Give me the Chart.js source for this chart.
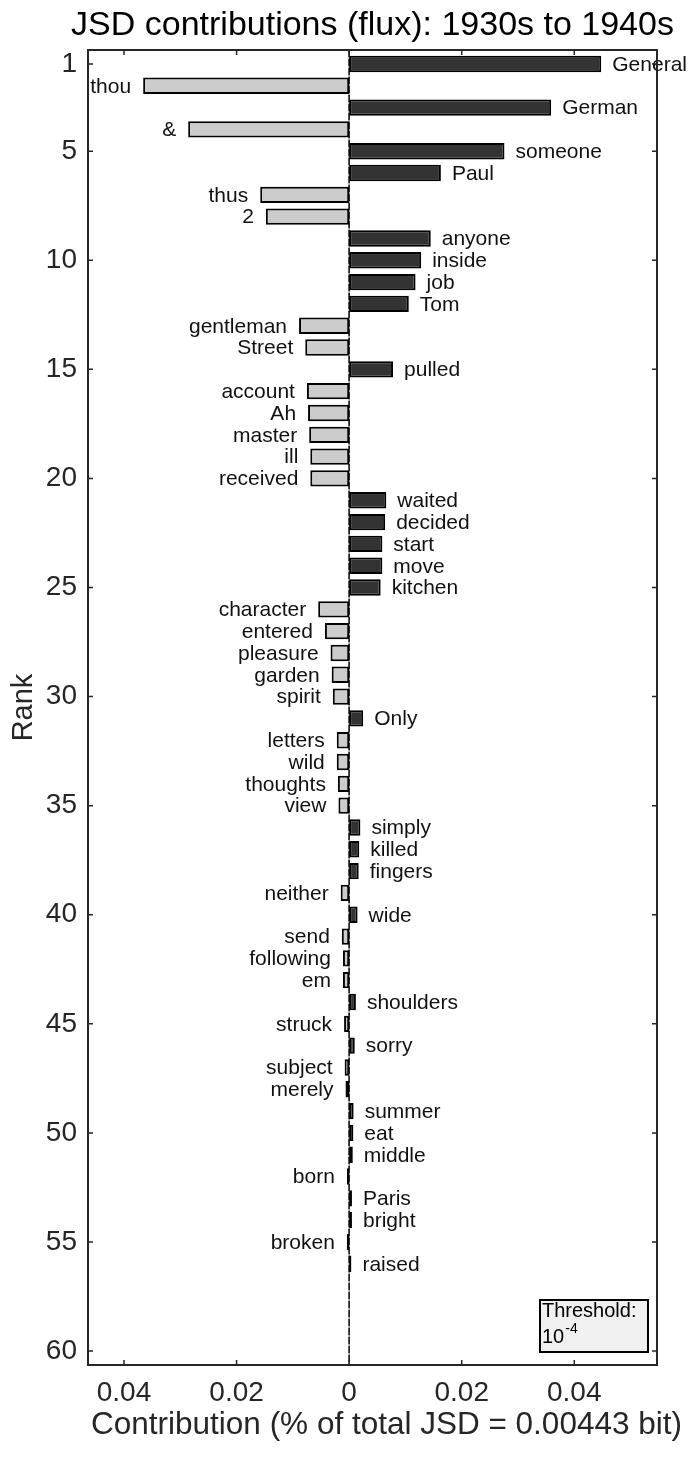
<!DOCTYPE html>
<html>
<head>
<meta charset="utf-8">
<title>JSD contributions (flux): 1930s to 1940s</title>
<script src="https://cdn.jsdelivr.net/npm/chart.js@4.4.1/dist/chart.umd.min.js"></script>
<style>
	html, body { margin: 0; padding: 0; background: #fff; }
	#wrap { width: 690px; height: 1457px; }
</style>
</head>
<body>
<div id="wrap"><canvas id="jsd-chart" width="690" height="1457"></canvas></div>
<script>
var chartTitle = 'JSD contributions (flux): 1930s to 1940s';
var xAxisTitle = 'Contribution (% of total JSD = 0.00443 bit)';
var yAxisTitle = 'Rank';

// rank of each word, top to bottom
var ranks = [1, 2, 3, 4, 5, 6, 7, 8, 9, 10,
	11, 12, 13, 14, 15, 16, 17, 18, 19, 20,
	21, 22, 23, 24, 25, 26, 27, 28, 29, 30,
	31, 32, 33, 34, 35, 36, 37, 38, 39, 40,
	41, 42, 43, 44, 45, 46, 47, 48, 49, 50,
	51, 52, 53, 54, 55, 56];

var words = ['General', 'thou', 'German', '&', 'someone', 'Paul', 'thus', '2', 'anyone', 'inside',
	'job', 'Tom', 'gentleman', 'Street', 'pulled', 'account', 'Ah', 'master', 'ill', 'received',
	'waited', 'decided', 'start', 'move', 'kitchen', 'character', 'entered', 'pleasure', 'garden', 'spirit',
	'Only', 'letters', 'wild', 'thoughts', 'view', 'simply', 'killed', 'fingers', 'neither', 'wide',
	'send', 'following', 'em', 'shoulders', 'struck', 'sorry', 'subject', 'merely', 'summer', 'eat',
	'middle', 'born', 'Paris', 'bright', 'broken', 'raised'];

// contribution in % of total JSD (negative = 1930s side)
var contributions = [0.0448, -0.0366, 0.0359, -0.0286, 0.0276, 0.0163, -0.0158, -0.0148, 0.0145, 0.0128,
	0.0118, 0.0106, -0.0089, -0.0078, 0.0078, -0.0075, -0.0073, -0.0071, -0.0069, -0.0069,
	0.0066, 0.0064, 0.0059, 0.0059, 0.0056, -0.0055, -0.0043, -0.0033, -0.0031, -0.0029,
	0.0025, -0.0022, -0.0022, -0.0020, -0.0019, 0.0020, 0.0018, 0.0017, -0.0015, 0.0015,
	-0.0013, -0.0011, -0.0011, 0.0012, -0.0009, 0.0010, -0.0008, -0.00065, 0.0008, 0.00075,
	0.00065, -0.0004, 0.0005, 0.0005, -0.0004, 0.0004];

var yTicks = [1, 5, 10, 15, 20, 25, 30, 35, 40, 45, 50, 55, 60];
var xTicks = [-0.04, -0.02, 0, 0.02, 0.04];
var xTickLabels = ['0.04', '0.02', '0', '0.02', '0.04'];

var thresholdLabel = 'Threshold:';
var thresholdBase = '10';
var thresholdExp = '-4';

var FONT = "'Liberation Sans', Arial, Helvetica, sans-serif";
var INK = '#262626';

Chart.defaults.font.family = FONT;
Chart.defaults.color = INK;

var decorPlugin = {
	id: 'decor',
	beforeDatasetsDraw: function(chart) {
		var ctx = chart.ctx;
		var area = chart.chartArea;
		var x0 = chart.scales.x.getPixelForValue(0);
		ctx.save();
		ctx.lineWidth = 1.5;
		ctx.strokeStyle = '#8a8a8a';
		ctx.beginPath();
		ctx.moveTo(x0, area.top);
		ctx.lineTo(x0, area.bottom);
		ctx.stroke();
		ctx.strokeStyle = '#1a1a1a';
		ctx.setLineDash([7, 2]);
		ctx.beginPath();
		ctx.moveTo(x0, area.top);
		ctx.lineTo(x0, area.bottom);
		ctx.stroke();
		ctx.restore();
	},
	afterDatasetsDraw: function(chart) {
		var ctx = chart.ctx;
		var meta = chart.getDatasetMeta(0);
		ctx.save();
		ctx.font = '21px ' + FONT;
		ctx.fillStyle = '#111';
		ctx.textBaseline = 'middle';
		meta.data.forEach(function(bar, i) {
			var p = bar.getProps(['x', 'y'], true);
			if (contributions[i] >= 0) {
				ctx.textAlign = 'left';
				ctx.fillText(words[i], p.x + 11, p.y + 1);
			} else {
				ctx.textAlign = 'right';
				ctx.fillText(words[i], p.x - 12, p.y + 1);
			}
		});
		ctx.restore();
	},
	afterDraw: function(chart) {
		var ctx = chart.ctx;
		var area = chart.chartArea;
		var xs = chart.scales.x;
		var ys = chart.scales.y;
		var tick = 5;

		ctx.save();
		// titles (drawn here so they are not squeezed to the plot width)
		ctx.fillStyle = '#000';
		ctx.textAlign = 'center';
		ctx.textBaseline = 'middle';
		ctx.font = '34px ' + FONT;
		ctx.fillText(chartTitle, (area.left + area.right) / 2, 26);
		ctx.fillStyle = INK;
		ctx.font = '31.5px ' + FONT;
		ctx.fillText(xAxisTitle, (area.left + area.right) / 2 + 14, 1425);

		// box and inward ticks
		ctx.strokeStyle = INK;
		ctx.lineWidth = 1.5;
		ctx.beginPath();
		yTicks.forEach(function(v) {
			var y = ys.getPixelForValue(v);
			ctx.moveTo(area.left, y);
			ctx.lineTo(area.left + tick, y);
			ctx.moveTo(area.right, y);
			ctx.lineTo(area.right - tick, y);
		});
		xTicks.forEach(function(v) {
			var x = xs.getPixelForValue(v);
			ctx.moveTo(x, area.bottom);
			ctx.lineTo(x, area.bottom - tick);
			ctx.moveTo(x, area.top);
			ctx.lineTo(x, area.top + tick);
		});
		ctx.stroke();
		ctx.lineWidth = 2;
		ctx.strokeRect(area.left, area.top, area.right - area.left, area.bottom - area.top);

		// threshold note
		var bw = 108, bh = 52;
		var bx = area.right - 9 - bw;
		var by = area.bottom - 13 - bh;
		ctx.fillStyle = '#f0f0f0';
		ctx.fillRect(bx, by, bw, bh);
		ctx.strokeStyle = '#000';
		ctx.lineWidth = 2;
		ctx.strokeRect(bx, by, bw, bh);
		ctx.fillStyle = '#000';
		ctx.textAlign = 'left';
		ctx.textBaseline = 'alphabetic';
		ctx.font = '20px ' + FONT;
		ctx.fillText(thresholdLabel, bx + 2, by + 17);
		ctx.fillText(thresholdBase, bx + 2, by + 43);
		var w = ctx.measureText(thresholdBase).width;
		ctx.font = '14px ' + FONT;
		ctx.fillText(thresholdExp, bx + 3 + w, by + 33);
		ctx.restore();
	}
};

var ctx = document.getElementById('jsd-chart');
var jsdChart = new Chart(ctx, {
	type: 'bar',
	data: {
		datasets: [{
			label: 'Contribution',
			data: ranks.map(function(r, i) {
				return { x: contributions[i], y: r };
			}),
			backgroundColor: function(c) {
				return contributions[c.dataIndex] >= 0 ? '#333333' : '#cccccc';
			},
			borderColor: '#000',
			borderWidth: 2,
			borderSkipped: false,
			barPercentage: 0.75,
			categoryPercentage: 1
		}]
	},
	options: {
		indexAxis: 'y',
		responsive: false,
		animation: false,
		layout: {
			padding: { top: 50, right: 33, bottom: 0, left: 0 }
		},
		plugins: {
			legend: { display: false },
			tooltip: { enabled: false }
		},
		scales: {
			x: {
				type: 'linear',
				min: -0.0464,
				max: 0.0547,
				grid: { display: false, drawTicks: false },
				border: { display: false },
				afterBuildTicks: function(scale) {
					scale.ticks = xTicks.map(function(v) { return { value: v }; });
				},
				afterFit: function(scale) {
					scale.height = 92;
				},
				ticks: {
					font: { size: 28 },
					color: INK,
					padding: 11,
					autoSkip: false,
					maxRotation: 0,
					callback: function(value, index) {
						return xTickLabels[index];
					}
				},
				title: { display: false }
			},
			y: {
				type: 'linear',
				reverse: true,
				offset: false,
				min: 0.36,
				max: 60.64,
				grid: { display: false, drawTicks: false, offset: false },
				border: { display: false },
				afterBuildTicks: function(scale) {
					scale.ticks = yTicks.map(function(v) { return { value: v }; });
				},
				afterFit: function(scale) {
					scale.width = 88;
				},
				ticks: {
					font: { size: 28 },
					color: INK,
					padding: 11,
					autoSkip: false
				},
				title: {
					display: true,
					text: yAxisTitle,
					font: { size: 29 },
					color: INK,
					padding: { top: 7, bottom: 0 }
				}
			}
		}
	},
	plugins: [decorPlugin]
});
</script>
</body>
</html>
